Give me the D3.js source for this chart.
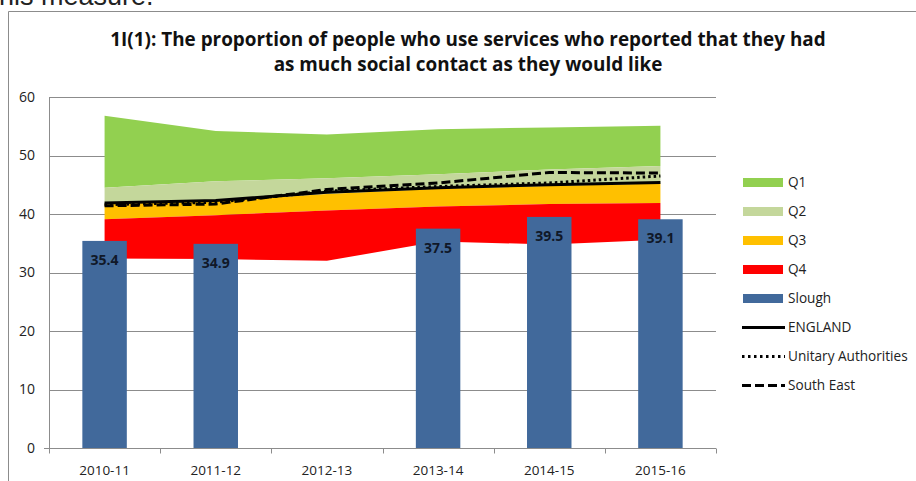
<!DOCTYPE html>
<html>
<head>
<meta charset="utf-8">
<script src="https://cdn.jsdelivr.net/npm/d3@7"></script>
<style>
  html, body { margin: 0; padding: 0; background: #fff; overflow: hidden; }
  svg { display: block; }
</style>
</head>
<body>
<script>
// Reporting years
const years = ["2010-11", "2011-12", "2012-13", "2013-14", "2014-15", "2015-16"];

// Comparator spread: boundaries of the quartile bands
const bandMin   = [32.4, 32.3, 32.0, 35.3, 34.8, 35.6];
const bandQ25   = [39.1, 39.8, 40.6, 41.3, 41.7, 41.9];
const bandMed   = [41.7, 42.2, 43.4, 44.3, 44.8, 45.2];
const bandQ75   = [44.5, 45.6, 46.1, 46.8, 47.6, 48.2];
const bandMax   = [56.8, 54.2, 53.6, 54.5, 54.8, 55.1];

// Slough result (no result in 2012-13)
const slough = [35.4, 34.9, null, 37.5, 39.5, 39.1];

// Benchmark lines
const england   = [41.9, 42.3, 43.7, 44.5, 45.0, 45.4];
const unitary   = [41.6, 42.0, 43.9, 44.7, 45.3, 46.5];
const southEast = [41.4, 41.7, 44.2, 45.3, 47.1, 47.0];

const yTicks = [0, 10, 20, 30, 40, 50, 60];

const W = 916, H = 481;
const svg = d3.select("body").append("svg").attr("width", W).attr("height", H);

const FONT = "'Open Sans', Lato, sans-serif";

// Surrounding page text, cut off by the top edge
svg.append("text")
  .attr("x", -8.5).attr("y", 5)
  .attr("font-family", "'Liberation Sans', Arial, sans-serif")
  .attr("font-size", 27).attr("fill", "#222")
  .text("this measure.");

// Chart frame
svg.append("path")
  .attr("d", "M8.5,481 V11.5 H916")
  .attr("fill", "none").attr("stroke", "#8c8c8c").attr("stroke-width", 1);

// Title, sized so the first line spans the plot width
const title = svg.append("text")
  .attr("text-anchor", "middle")
  .attr("font-family", FONT).attr("font-weight", "bold")
  .attr("font-size", 17).attr("fill", "#111");
const t1 = title.append("tspan").attr("x", 468).attr("y", 46)
  .text("1I(1): The proportion of people who use services who reported that they had");
title.append("tspan").attr("x", 468).attr("y", 71)
  .text("as much social contact as they would like");
const w1 = t1.node().getComputedTextLength();
if (w1 > 0) title.attr("font-size", 17 * 716 / w1);

// Scales
const x = d3.scaleBand().domain(years).range([49, 716]).padding(0);
const y = d3.scaleLinear().domain([0, 60]).range([448, 97]);
const cx = (i) => x(years[i]) + x.bandwidth() / 2;

// Gridlines
svg.append("g").selectAll("line").data(yTicks.filter(d => d > 0)).join("line")
  .attr("x1", x.range()[0]).attr("x2", x.range()[1])
  .attr("y1", d => Math.round(y(d)) + 0.5).attr("y2", d => Math.round(y(d)) + 0.5)
  .attr("stroke", "#8c8c8c").attr("stroke-width", 1);

// Y axis labels
svg.append("g").selectAll("text").data(yTicks).join("text")
  .attr("x", 35).attr("y", d => y(d))
  .attr("dy", "0.35em").attr("text-anchor", "end")
  .attr("font-family", FONT).attr("font-size", 14).attr("fill", "#222")
  .text(d => d);

// Quartile bands
const idx = d3.range(years.length);
const bands = [
  { lo: bandQ75, hi: bandMax, color: "#92D050" },
  { lo: bandMed, hi: bandQ75, color: "#C4D79B" },
  { lo: bandQ25, hi: bandMed, color: "#FFC000" },
  { lo: bandMin, hi: bandQ25, color: "#FF0000" }
];
const gBands = svg.append("g");
bands.forEach(b => {
  const area = d3.area()
    .x(i => cx(i))
    .y0(i => y(b.lo[i]))
    .y1(i => y(b.hi[i]));
  gBands.append("path").attr("d", area(idx)).attr("fill", b.color);
});

// Slough bars
const barW = x.bandwidth() * 0.4;
const bars = idx.filter(i => slough[i] != null);
svg.append("g").selectAll("rect").data(bars).join("rect")
  .attr("x", i => cx(i) - barW / 2)
  .attr("width", barW)
  .attr("y", i => y(slough[i]))
  .attr("height", i => y(0) - y(slough[i]))
  .attr("fill", "#41699B");

svg.append("g").selectAll("text").data(bars).join("text")
  .attr("x", i => cx(i))
  .attr("y", i => y(slough[i]) + 24)
  .attr("text-anchor", "middle")
  .attr("font-family", FONT).attr("font-weight", "bold")
  .attr("font-size", 14).attr("fill", "#101828")
  .text(i => slough[i].toFixed(1));

// Benchmark lines
const lineGen = (vals) => d3.line().x(i => cx(i)).y(i => y(vals[i]))(idx);
const lineStyles = [
  { vals: southEast, dash: "9,4" },
  { vals: unitary, dash: "2.5,3" },
  { vals: england, dash: null }
];
lineStyles.forEach(s => {
  svg.append("path").attr("d", lineGen(s.vals))
    .attr("fill", "none").attr("stroke", "#000")
    .attr("stroke-width", 3)
    .attr("stroke-dasharray", s.dash)
    .attr("stroke-linejoin", "round");
});

// X axis
const baseY = Math.round(y(0)) + 0.5;
svg.append("line")
  .attr("x1", 44).attr("x2", x.range()[1])
  .attr("y1", baseY).attr("y2", baseY)
  .attr("stroke", "#8c8c8c");
svg.append("line")
  .attr("x1", 49.5).attr("x2", 49.5)
  .attr("y1", y(60)).attr("y2", baseY)
  .attr("stroke", "#8c8c8c");
const tickXs = years.map(d => x(d)).concat([x.range()[1]]);
svg.append("g").selectAll("line").data(tickXs).join("line")
  .attr("x1", d => Math.round(d) + 0.5).attr("x2", d => Math.round(d) + 0.5)
  .attr("y1", baseY).attr("y2", baseY + 5)
  .attr("stroke", "#8c8c8c");
svg.append("g").selectAll("text").data(years).join("text")
  .attr("x", d => x(d) + x.bandwidth() / 2)
  .attr("y", 475)
  .attr("text-anchor", "middle")
  .attr("font-family", FONT).attr("font-size", 13.5).attr("fill", "#222")
  .text(d => d);

// Legend
const legend = [
  { label: "Q1", type: "swatch", color: "#92D050" },
  { label: "Q2", type: "swatch", color: "#C4D79B" },
  { label: "Q3", type: "swatch", color: "#FFC000" },
  { label: "Q4", type: "swatch", color: "#FF0000" },
  { label: "Slough", type: "swatch", color: "#41699B" },
  { label: "ENGLAND", type: "line", dash: null },
  { label: "Unitary Authorities", type: "line", dash: "2.5,3.5" },
  { label: "South East", type: "line", dash: "9,4" }
];
const lg = svg.append("g");
legend.forEach((d, i) => {
  const ly = 182.5 + i * 29;
  if (d.type === "swatch") {
    lg.append("rect").attr("x", 743).attr("y", ly - 4.5).attr("width", 40).attr("height", 9)
      .attr("fill", d.color);
  } else {
    lg.append("line").attr("x1", 742).attr("x2", 785).attr("y1", ly).attr("y2", ly)
      .attr("stroke", "#000").attr("stroke-width", 3)
      .attr("stroke-dasharray", d.dash);
  }
  lg.append("text").attr("x", 788).attr("y", ly).attr("dy", "0.35em")
    .attr("font-family", FONT).attr("font-size", 13.6).attr("fill", "#222")
    .text(d.label);
});
</script>
</body>
</html>
